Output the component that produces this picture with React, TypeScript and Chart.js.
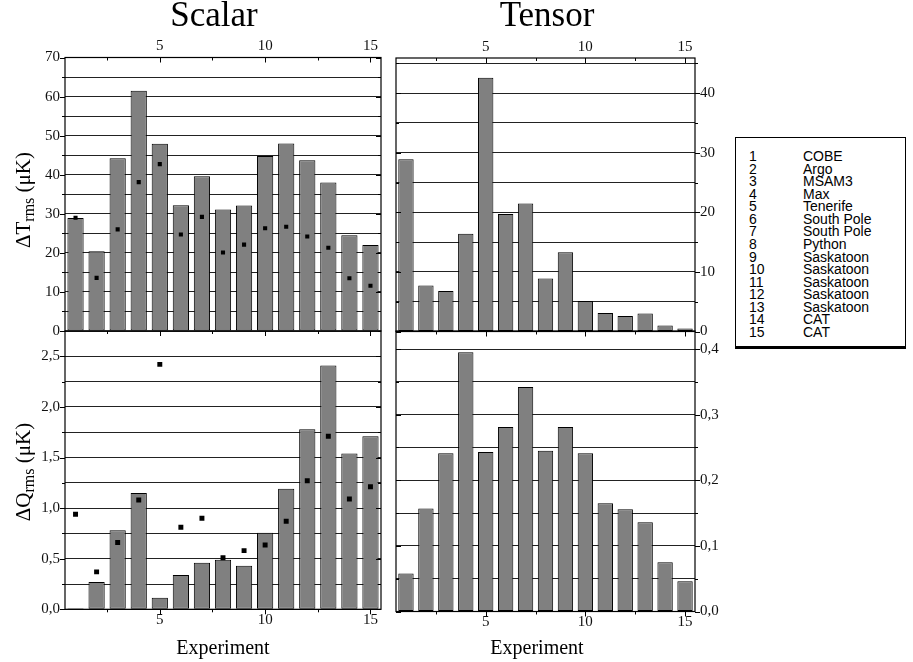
import React, { useEffect, useRef } from "react";
import { Chart, registerables } from "chart.js";

Chart.register(...registerables);

// ---------- data ----------
const experiments = [1, 2, 3, 4, 5, 6, 7, 8, 9, 10, 11, 12, 13, 14, 15];
const experimentNames = [
  "COBE", "Argo", "MSAM3", "Max", "Tenerife", "South Pole", "South Pole", "Python",
  "Saskatoon", "Saskatoon", "Saskatoon", "Saskatoon", "Saskatoon", "CAT", "CAT",
];

const scalarTBars = [28.9, 20.4, 44.2, 61.5, 47.9, 32.2, 39.6, 31.1, 32.1, 44.8, 48.0, 43.7, 38.0, 24.5, 22.0];
const scalarTPoints = [29.0, 13.6, 26.0, 38.1, 42.7, 24.7, 29.2, 20.1, 22.1, 26.3, 26.7, 24.2, 21.3, 13.5, 11.6];
const tensorTBars = [28.9, 7.7, 6.8, 16.4, 42.6, 19.7, 21.5, 8.9, 13.3, 5.1, 3.1, 2.6, 3.0, 1.0, 0.5];
const scalarQBars = [0.01, 0.27, 0.78, 1.15, 0.115, 0.34, 0.46, 0.49, 0.43, 0.757, 1.19, 1.78, 2.41, 1.54, 1.71];
const scalarQPoints = [0.94, 0.37, 0.66, 1.08, 2.42, 0.81, 0.9, 0.51, 0.58, 0.635, 0.87, 1.27, 1.71, 1.09, 1.21];
const tensorQBars = [0.058, 0.157, 0.241, 0.395, 0.243, 0.281, 0.342, 0.245, 0.281, 0.241, 0.165, 0.156, 0.136, 0.075, 0.046];

// tick values
const xTickMarks = [2.5, 5, 7.5, 10, 12.5, 15];
const xTickLabels = [5, 10, 15];
const scalarTTicks = [0, 5, 10, 15, 20, 25, 30, 35, 40, 45, 50, 55, 60, 65, 70];
const scalarTLabels = [0, 10, 20, 30, 40, 50, 60, 70];
const tensorTTicks = [0, 5, 10, 15, 20, 25, 30, 35, 40, 45];
const tensorTLabels = [0, 10, 20, 30, 40];
const scalarQTicks = [0, 0.25, 0.5, 0.75, 1, 1.25, 1.5, 1.75, 2, 2.25, 2.5, 2.75];
const scalarQLabels = [0, 0.5, 1, 1.5, 2, 2.5];
const tensorQTicks = [0, 0.05, 0.1, 0.15, 0.2, 0.25, 0.3, 0.35, 0.4];
const tensorQLabels = [0, 0.1, 0.2, 0.3, 0.4];

// ---------- layout ----------
const W = 913;
const H = 662;
const SERIF = '"Liberation Serif"';
const SANS = '"Liberation Sans"';

type Dir = "in" | "out";
type Panel = {
  id: string;
  rect: { l: number; t: number; r: number; b: number };
  yMax: number;
  yTicks: number[];
  yLabels: number[];
  yPos: "left" | "right";
  xPos: "top" | "bottom";
  bars: number[];
  points?: number[];
  ptRadius?: number;
  comma: boolean;
  tickDir: { left: Dir; right: Dir; top: Dir; bottom: Dir };
};

const panels: Panel[] = [
  {
    id: "tl",
    rect: { l: 65, t: 57.5, r: 381, b: 331 },
    yMax: 70,
    yTicks: scalarTTicks,
    yLabels: scalarTLabels,
    yPos: "left",
    xPos: "top",
    bars: scalarTBars,
    points: scalarTPoints,
    ptRadius: 2.9,
    comma: false,
    tickDir: { left: "out", right: "in", top: "in", bottom: "out" },
  },
  {
    id: "tr",
    rect: { l: 396, t: 58, r: 695, b: 331.5 },
    yMax: 45.9,
    yTicks: tensorTTicks,
    yLabels: tensorTLabels,
    yPos: "right",
    xPos: "top",
    bars: tensorTBars,
    comma: false,
    tickDir: { left: "in", right: "out", top: "in", bottom: "out" },
  },
  {
    id: "bl",
    rect: { l: 65, t: 331, r: 381, b: 609.3 },
    yMax: 2.75,
    yTicks: scalarQTicks,
    yLabels: scalarQLabels,
    yPos: "left",
    xPos: "bottom",
    bars: scalarQBars,
    points: scalarQPoints,
    ptRadius: 3.5,
    comma: true,
    tickDir: { left: "out", right: "in", top: "in", bottom: "out" },
  },
  {
    id: "br",
    rect: { l: 396, t: 331, r: 695, b: 611.5 },
    yMax: 0.4275,
    yTicks: tensorQTicks,
    yLabels: tensorQLabels,
    yPos: "right",
    xPos: "bottom",
    bars: tensorQBars,
    comma: true,
    tickDir: { left: "in", right: "out", top: "in", bottom: "out" },
  },
];

const isIn = (arr: number[], v: number) => arr.some((m) => Math.abs(m - v) < 1e-9);

function framePlugin(p: Panel) {
  return {
    id: "frame_" + p.id,
    afterDraw(chart: any) {
      const { ctx, chartArea, scales } = chart;
      const { left, right, top, bottom } = chartArea;
      const x = scales.x;
      const y = scales.y;
      ctx.save();
      ctx.strokeStyle = "#000";
      ctx.lineWidth = 1;
      ctx.beginPath();
      p.yTicks.forEach((v) => {
        const py = Math.round(y.getPixelForValue(v)) + 0.5;
        const len = isIn(p.yLabels, v) ? 5 : 3;
        const ls = p.tickDir.left === "out" ? -len : len;
        ctx.moveTo(left, py);
        ctx.lineTo(left + ls, py);
        const rs = p.tickDir.right === "out" ? len : -len;
        ctx.moveTo(right, py);
        ctx.lineTo(right + rs, py);
      });
      xTickMarks.forEach((v) => {
        const px = Math.round(x.getPixelForValue(v)) + 0.5;
        const len = isIn(xTickLabels, v) ? 5 : 3;
        const ts = p.tickDir.top === "out" ? -len : len;
        ctx.moveTo(px, top);
        ctx.lineTo(px, top + ts);
        const bs = p.tickDir.bottom === "out" ? len : -len;
        ctx.moveTo(px, bottom);
        ctx.lineTo(px, bottom + bs);
      });
      ctx.stroke();
      ctx.lineWidth = 1.2;
      ctx.strokeRect(left, top, right - left, bottom - top);
      ctx.restore();
    },
  };
}

function PanelChart({ panel }: { panel: Panel }) {
  const ref = useRef<HTMLCanvasElement>(null);
  useEffect(() => {
    const p = panel;
    const { l, t, r, b } = p.rect;
    const yW = p.yPos === "left" ? l : W - r;
    const xH = p.xPos === "top" ? t : H - b;
    const padding = {
      left: p.yPos === "left" ? 0 : l,
      right: p.yPos === "right" ? 0 : W - r,
      top: p.xPos === "top" ? 0 : t,
      bottom: p.xPos === "bottom" ? 0 : H - b,
    };
    const datasets: any[] = [];
    if (p.points) {
      datasets.push({
        type: "line",
        data: experiments.map((e, i) => ({ x: e, y: p.points![i] })),
        showLine: false,
        pointStyle: "rect",
        pointRadius: p.ptRadius,
        pointBackgroundColor: "#000",
        pointBorderColor: "#000",
        pointBorderWidth: 0,
        order: 0,
      });
    }
    datasets.push({
      type: "bar",
      data: experiments.map((e, i) => ({ x: e, y: p.bars[i] })),
      backgroundColor: "#808080",
      borderColor: "#000",
      borderWidth: 1,
      borderSkipped: false,
      barPercentage: 0.77,
      categoryPercentage: 1,
      order: 1,
    });
    const fmt = (v: number) => (p.comma ? v.toFixed(1).replace(".", ",") : String(Math.round(v)));
    const chart = new Chart(ref.current as HTMLCanvasElement, {
      type: "bar",
      data: { datasets },
      options: {
        animation: false,
        responsive: false,
        maintainAspectRatio: false,
        devicePixelRatio: 1,
        events: [],
        layout: { padding },
        plugins: { legend: { display: false }, tooltip: { enabled: false } },
        scales: {
          x: {
            type: "linear",
            position: p.xPos,
            min: 0.5,
            max: 15.5,
            offset: false,
            grid: { display: false, drawTicks: false, tickLength: 0 },
            border: { display: false },
            afterBuildTicks: (s: any) => {
              s.ticks = xTickLabels.map((v) => ({ value: v }));
            },
            afterFit: (s: any) => {
              s.height = xH;
            },
            ticks: {
              font: { family: SERIF, size: 15 },
              color: "#111",
              padding: 2,
              maxRotation: 0,
              autoSkip: false,
              callback: (v: any) => String(v),
            },
          },
          y: {
            type: "linear",
            position: p.yPos,
            min: 0,
            max: p.yMax,
            grid: { color: "#222", lineWidth: 1, drawTicks: false, tickLength: 0 },
            border: { display: false },
            afterBuildTicks: (s: any) => {
              s.ticks = p.yTicks.map((v) => ({ value: v }));
            },
            afterFit: (s: any) => {
              s.width = yW;
            },
            ticks: {
              font: { family: SERIF, size: 15 },
              color: "#111",
              padding: 5,
              autoSkip: false,
              callback: (v: any) => (isIn(p.yLabels, Number(v)) ? fmt(Number(v)) : ""),
            },
          },
        },
      } as any,
      plugins: [framePlugin(p)],
    });
    return () => chart.destroy();
  }, [panel]);
  return (
    <canvas
      ref={ref}
      width={W}
      height={H}
      style={{ position: "absolute", left: 0, top: 0, width: W, height: H }}
    />
  );
}

const abs = (s: React.CSSProperties): React.CSSProperties => ({
  position: "absolute",
  whiteSpace: "nowrap",
  lineHeight: 1,
  color: "#000",
  ...s,
});

export default function App() {
  const rowTop = 155;
  const rowStep = 12.57;
  return (
    <div style={{ position: "absolute", left: 0, top: 0, width: W, height: H, background: "#fff", overflow: "hidden" }}>
      {panels.map((p) => (
        <PanelChart key={p.id} panel={p} />
      ))}
      <div style={abs({ left: 214, top: -2.6, transform: "translateX(-50%)", fontFamily: SERIF, fontSize: 35 })}>Scalar</div>
      <div style={abs({ left: 547, top: -2.6, transform: "translateX(-50%)", fontFamily: SERIF, fontSize: 35 })}>Tensor</div>
      <div style={abs({ left: 223, top: 637, transform: "translateX(-50%)", fontFamily: SERIF, fontSize: 20 })}>Experiment</div>
      <div style={abs({ left: 537, top: 637, transform: "translateX(-50%)", fontFamily: SERIF, fontSize: 20 })}>Experiment</div>
      <div
        style={abs({
          left: 25,
          top: 200,
          transform: "translate(-50%, -50%) rotate(-90deg)",
          fontFamily: SERIF,
          fontSize: 21,
        })}
      >
        ΔT<span style={{ fontSize: 16, verticalAlign: "-0.3em" }}>rms</span> (μK)
      </div>
      <div
        style={abs({
          left: 25,
          top: 472,
          transform: "translate(-50%, -50%) rotate(-90deg)",
          fontFamily: SERIF,
          fontSize: 21,
        })}
      >
        ΔQ<span style={{ fontSize: 16, verticalAlign: "-0.3em" }}>rms</span> (μK)
      </div>
      <div
        style={{
          position: "absolute",
          left: 735,
          top: 137,
          width: 169,
          height: 208,
          border: "1px solid #000",
          borderBottom: "3px solid #000",
          background: "#fff",
        }}
      >
        {experiments.map((e, i) => (
          <React.Fragment key={e}>
            <div style={abs({ left: 13, top: rowTop - 137 - 7 + i * rowStep, fontFamily: SANS, fontSize: 14, lineHeight: "14px" })}>
              {e}
            </div>
            <div style={abs({ left: 67, top: rowTop - 137 - 7 + i * rowStep, fontFamily: SANS, fontSize: 14, lineHeight: "14px" })}>
              {experimentNames[i]}
            </div>
          </React.Fragment>
        ))}
      </div>
    </div>
  );
}
